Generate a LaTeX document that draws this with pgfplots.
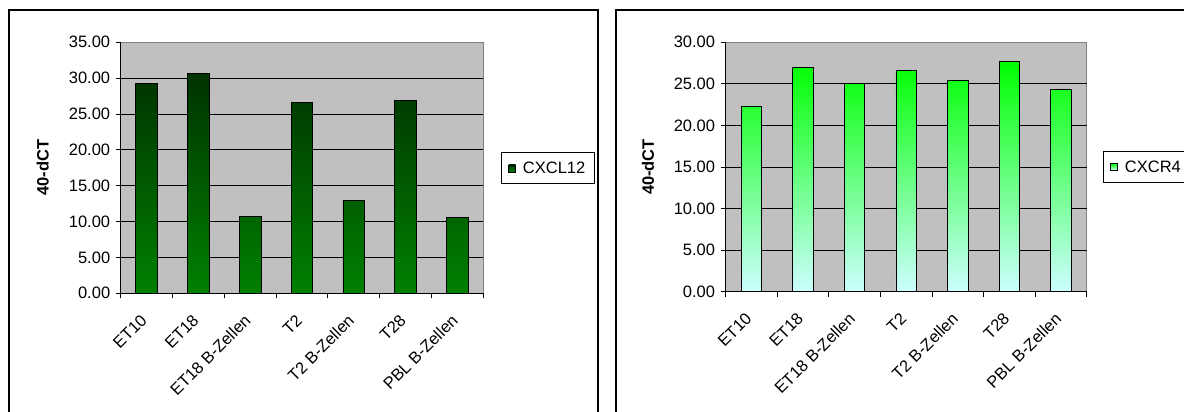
\documentclass[border=0pt]{standalone}
\usepackage{fontspec}
\setmainfont{Liberation Sans}
\usepackage{pgfplots}
\pgfplotsset{compat=1.18}

\definecolor{plotgray}{RGB}{192,192,192}
\definecolor{bordergray}{RGB}{128,128,128}
\definecolor{darkgreen}{RGB}{0,51,0}
\definecolor{midgreen}{RGB}{0,128,0}
\definecolor{brightgreen}{RGB}{0,255,0}
\definecolor{palecyan}{RGB}{204,255,255}

\newcommand{\chartfont}{\fontsize{16.5bp}{19bp}\selectfont}

% values (40-dCT) per sample
\pgfplotstableread{
x  y
0  29.31
1  30.62
2  10.76
3  26.65
4  13.00
5  26.89
6  10.58
}\cxcltable
\pgfplotstableread{
x  y
0  22.34
1  26.95
2  25.03
3  26.59
4  25.43
5  27.72
6  24.31
}\cxcrtable

\pgfplotsset{
  excelbars/.style={
    scale only axis,
    anchor=south west,
    xmin=-0.5, xmax=6.5,
    ymin=0,
    axis lines=left,
    axis line style={-, black, line width=0.8bp},
    axis background/.style={fill=plotgray, draw=bordergray, line width=0.8bp},
    tick align=outside,
    major tick length=5bp,
    tick style={black, line width=0.8bp},
    xtick={0,...,6},
    xticklabels={ET10,ET18,ET18 B-Zellen,T2,T2 B-Zellen,T28,PBL B-Zellen},
    xtick style={draw=none},
    extra x ticks={-0.5,0.5,...,6.5},
    extra x tick labels={},
    extra x tick style={xtick style={draw=black}},
    xticklabel style={xshift=-7bp, yshift=-12bp, rotate=45, anchor=north east, inner sep=2bp},
    ymajorgrids,
    grid style={black, line width=0.8bp},
    yticklabel style={/pgf/number format/fixed,
      /pgf/number format/fixed zerofill,
      /pgf/number format/precision=2,
      /pgf/number format/assume math mode=true,
      xshift=-2bp},
    tick label style={font=\chartfont},
    every axis y label/.style={at={(axis description cs:-0.215,0.5)},
      rotate=90, anchor=center, font=\chartfont\bfseries},
    ylabel={40-dCT},
    legend style={anchor=west, draw=black, line width=0.8bp, fill=white,
      font=\chartfont, inner xsep=7bp, inner ysep=7bp,
      nodes={inner sep=2bp}, /tikz/column sep=5bp},
    legend image code/.code={\draw[##1, line width=0.6bp] (0bp,-3.5bp) rectangle (7bp,3.5bp);},
  }
}

\begin{document}
\begin{tikzpicture}
\useasboundingbox (0,0) rectangle (1184bp,412bp);
\clip (0,0) rectangle (1184bp,412bp);

% chart area frames
\draw[line width=1.6bp] (9bp,-10bp) -- (9bp,402bp) -- (598bp,402bp) -- (598bp,-10bp);
\draw[line width=1.6bp] (616bp,-10bp) -- (616bp,402bp) -- (1200bp,402bp);

% CXCL12
\begin{axis}[excelbars,
  at={(120.7bp,118.7bp)}, width=362.6bp, height=251bp,
  ymax=35, ytick={0,5,...,30}, extra y ticks={35},
  extra y tick style={grid=none},
  legend style={at={(1.0488,0.498)}},
]
\addplot[ybar, bar width=21.7bp, bar shift=0pt, draw=black, line width=0.8bp,
  top color=darkgreen, bottom color=midgreen] table {\cxcltable};
\addlegendentry{CXCL12}
\end{axis}

% CXCR4
\begin{axis}[excelbars,
  at={(725.6bp,120.3bp)}, width=361.1bp, height=249.4bp,
  ymax=30, ytick={0,5,...,25}, extra y ticks={30},
  extra y tick style={grid=none},
  legend style={at={(1.045,0.5)}},
]
\addplot[ybar, bar width=20.5bp, bar shift=0pt, draw=black, line width=0.8bp,
  top color=brightgreen, bottom color=palecyan] table {\cxcrtable};
\addlegendentry{CXCR4}
\end{axis}
\end{tikzpicture}
\end{document}
